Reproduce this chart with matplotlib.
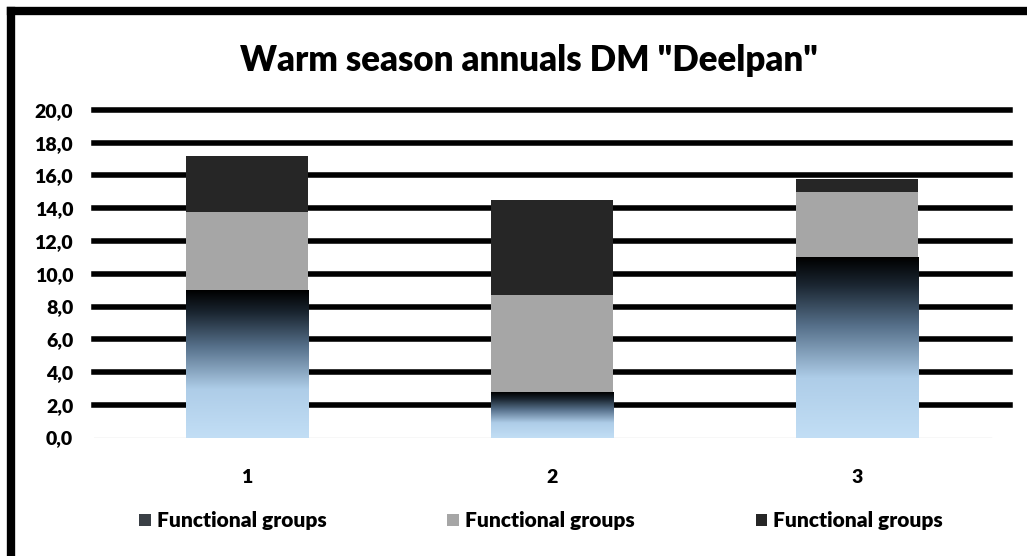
import numpy as np
from matplotlib import pyplot as plt
from matplotlib import patches
from matplotlib.colors import LinearSegmentedColormap

# Data
categories = ["1", "2", "3"]
bottom_group = [9.0, 2.8, 11.0]
middle_group = [4.8, 5.9, 4.0]
top_group = [3.4, 5.8, 0.8]
legend_labels = ["Functional groups", "Functional groups", "Functional groups"]
y_ticks = [0, 2, 4, 6, 8, 10, 12, 14, 16, 18, 20]

plt.rcParams["font.family"] = ["Lato", "DejaVu Sans"]
plt.rcParams["font.weight"] = "heavy"

fig = plt.figure(figsize=(10.27, 5.56), dpi=100)
ax = fig.add_axes([0.0915, 0.2131, 0.8915, 0.5891])

x = np.arange(len(categories))
width = 0.4
bottom_arr = np.array(bottom_group)
middle_arr = np.array(middle_group)

# gradient for the lowest segment, light blue at bottom to black at top
cmap = LinearSegmentedColormap.from_list(
    "blueblack",
    [(0.0, "#c2def5"), (0.33, "#aecde8"), (0.62, "#56708a"), (0.85, "#1a2530"), (1.0, "#000000")])
grad = np.linspace(0, 1, 256).reshape(-1, 1)

bars1 = ax.bar(x, bottom_group, width, color="none", zorder=2)
for b in bars1:
    im = ax.imshow(grad, cmap=cmap, aspect="auto", origin="lower", zorder=2,
                   extent=[b.get_x(), b.get_x() + b.get_width(), 0, b.get_height()])
    im.set_clip_path(b)
ax.bar(x, middle_group, width, bottom=bottom_arr, color="#a6a6a6", zorder=2)
ax.bar(x, top_group, width, bottom=bottom_arr + middle_arr, color="#262626", zorder=2)

ax.set_xlim(-0.5, 2.5)
ax.set_ylim(0, 20)

# thick black gridlines
for t in y_ticks[1:]:
    ax.axhline(t, color="black", lw=4, zorder=1, clip_on=False)
ax.axhline(0, xmax=0.98, color="#d9d9d9", lw=1, zorder=1)

ax.set_yticks(y_ticks)
ax.set_yticklabels([f"{v:.1f}".replace(".", ",") for v in y_ticks], fontsize=14, fontweight="heavy")
ax.set_xticks(x)
ax.set_xticklabels(categories, fontsize=14, fontweight="heavy")
ax.tick_params(length=0, pad=15, axis="y")
ax.tick_params(length=0, pad=23, axis="x")
for s in ax.spines.values():
    s.set_visible(False)

fig.text(0.515, 0.892, 'Warm season annuals DM "Deelpan"', ha="center", va="center",
         fontsize=25, fontweight="heavy")

handles = [patches.Patch(facecolor="#3a3f45"), patches.Patch(facecolor="#a6a6a6"),
           patches.Patch(facecolor="#262626")]
fig.legend(handles, legend_labels, loc="center", bbox_to_anchor=(0.527, 0.063), ncol=3,
           frameon=False, handlelength=0.55, handleheight=0.55, handletextpad=0.3,
           columnspacing=5.8, prop={"size": 15, "weight": "heavy"})

# black frame on top and left edges
fig.add_artist(plt.Line2D([0.011, 1.0], [0.98, 0.98], color="black", lw=6, transform=fig.transFigure))
fig.add_artist(plt.Line2D([0.011, 0.011], [0.0, 0.98], color="black", lw=6, transform=fig.transFigure))

fig.savefig("out.png", dpi=100)
